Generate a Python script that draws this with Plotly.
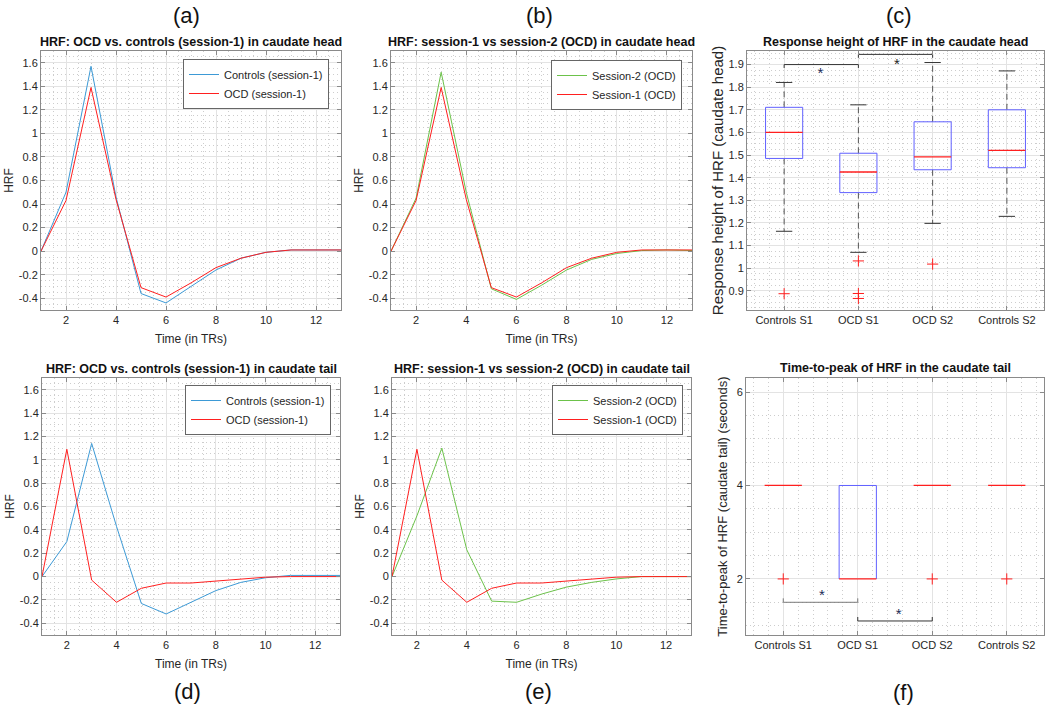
import plotly.graph_objects as go

W, H = 1050, 709
FONT = "Liberation Sans, Arial, Helvetica, sans-serif"

# ---------------- data ----------------
time_trs = list(range(1, 14))
head_controls_s1 = [0, 0.50, 1.57, 0.46, -0.36, -0.44, -0.30, -0.16, -0.06, -0.01, 0.01, 0.01, 0.01]
head_ocd_s1 = [0, 0.43, 1.39, 0.44, -0.31, -0.39, -0.27, -0.14, -0.06, -0.01, 0.01, 0.01, 0.01]
head_ocd_s2 = [0, 0.45, 1.52, 0.50, -0.32, -0.41, -0.29, -0.16, -0.07, -0.02, 0.005, 0.01, 0.005]
tail_controls_s1 = [0, 0.30, 1.14, 0.43, -0.23, -0.32, -0.22, -0.12, -0.05, -0.01, 0.01, 0.01, 0.01]
tail_ocd_s1 = [0, 1.09, -0.03, -0.22, -0.10, -0.055, -0.055, -0.04, -0.02, -0.005, 0.0, 0.0, 0.0]
tail_ocd_s2 = [0, 0.52, 1.10, 0.23, -0.21, -0.22, -0.15, -0.09, -0.05, -0.02, 0.0, 0.0, 0.0]

groups = ["Controls S1", "OCD S1", "OCD S2", "Controls S2"]
group_pos = [1, 2, 3, 4]

# response height of HRF in the caudate head (box plot statistics)
rh_low = [1.163, 1.070, 1.198, 1.229]
rh_q1 = [1.485, 1.334, 1.435, 1.444]
rh_med = [1.600, 1.425, 1.492, 1.521]
rh_q3 = [1.711, 1.508, 1.647, 1.700]
rh_high = [1.821, 1.722, 1.909, 1.872]
rh_outliers = [[0.887], [1.032, 0.888, 0.866], [1.018], []]

# time-to-peak of HRF in the caudate tail
ttp_low = [4, 2, 4, 4]
ttp_q1 = [4, 2, 4, 4]
ttp_med = [4, 2, 4, 4]
ttp_q3 = [4, 4, 4, 4]
ttp_high = [4, 4, 4, 4]
ttp_outliers = [[2], [], [2], [2]]

# significance brackets
rh_sig_from = [1, 2]
rh_sig_to = [2, 3]
rh_sig_level = [1.90, 1.945]
rh_star_x = [1.49, 2.52]
rh_star_y = [1.866, 1.904]

ttp_sig_from = [1, 2]
ttp_sig_to = [2, 3]
ttp_sig_level = [1.5, 1.1]
ttp_star_x = [1.52, 2.55]
ttp_star_y = [1.65, 1.25]

# ticks
hrf_yticks = [-0.4, -0.2, 0, 0.2, 0.4, 0.6, 0.8, 1, 1.2, 1.4, 1.6]
hrf_yticklabels = ["-0.4", "-0.2", "0", "0.2", "0.4", "0.6", "0.8", "1", "1.2", "1.4", "1.6"]
time_xticks = [2, 4, 6, 8, 10, 12]
rh_yticks = [0.9, 1.0, 1.1, 1.2, 1.3, 1.4, 1.5, 1.6, 1.7, 1.8, 1.9]
rh_yticklabels = ["0.9", "1", "1.1", "1.2", "1.3", "1.4", "1.5", "1.6", "1.7", "1.8", "1.9"]
ttp_yticks = [2, 4, 6]

# ---------------- style ----------------
BLUE = "#3d9ad6"
RED = "#ff1f1f"
GREEN = "#6cc24a"
BOXC = "#6060ff"
AXC = "#8a8a8a"
GRID = "#e3e3e3"
MINOR = "#cdcdcd"
TXT = "#262626"

fig = go.Figure()


def line(x, y, name, color, ax, legend):
    fig.add_trace(go.Scatter(x=x, y=y, mode="lines", name=name,
                             line=dict(color=color, width=1),
                             xaxis="x" + ax, yaxis="y" + ax, legend=legend))


# (a)
line(time_trs, head_controls_s1, "Controls (session-1)", BLUE, "", "legend")
line(time_trs, head_ocd_s1, "OCD (session-1)", RED, "", "legend")
# (b)
line(time_trs, head_ocd_s2, "Session-2 (OCD)", GREEN, "2", "legend2")
line(time_trs, head_ocd_s1, "Session-1 (OCD)", RED, "2", "legend2")
# (d)
line(time_trs, tail_controls_s1, "Controls (session-1)", BLUE, "4", "legend3")
line(time_trs, tail_ocd_s1, "OCD (session-1)", RED, "4", "legend3")
# (e)
line(time_trs, tail_ocd_s2, "Session-2 (OCD)", GREEN, "5", "legend4")
line(time_trs, tail_ocd_s1, "Session-1 (OCD)", RED, "5", "legend4")


def boxes(ax, low, q1, med, q3, high, outl, bw=0.5, cw=0.22):
    xa, ya = "x" + ax, "y" + ax
    # whiskers (dashed) and caps, only where they extend beyond the box
    wx, wy, cx, cy = [], [], [], []
    for p, lo, a, b, hi in zip(group_pos, low, q1, q3, high):
        if hi > b:
            wx += [p, p, None]
            wy += [b, hi, None]
            cx += [p - cw / 2, p + cw / 2, None]
            cy += [hi, hi, None]
        if lo < a:
            wx += [p, p, None]
            wy += [a, lo, None]
            cx += [p - cw / 2, p + cw / 2, None]
            cy += [lo, lo, None]
    fig.add_trace(go.Scatter(x=wx, y=wy, mode="lines", showlegend=False,
                             line=dict(color="#555555", width=1, dash="6px,4px"),
                             xaxis=xa, yaxis=ya, hoverinfo="skip"))
    fig.add_trace(go.Scatter(x=cx, y=cy, mode="lines", showlegend=False,
                             line=dict(color="#333333", width=1),
                             xaxis=xa, yaxis=ya, hoverinfo="skip"))
    # boxes (edges that coincide with the median are left to the median line)
    bx, by = [], []
    for p, a, m, b in zip(group_pos, q1, med, q3):
        if b <= a:
            continue
        l, r = p - bw / 2, p + bw / 2
        bx += [l, l, None, r, r, None]
        by += [a, b, None, a, b, None]
        if a != m:
            bx += [l, r, None]
            by += [a, a, None]
        if b != m:
            bx += [l, r, None]
            by += [b, b, None]
    fig.add_trace(go.Scatter(x=bx, y=by, mode="lines", showlegend=False,
                             line=dict(color=BOXC, width=1),
                             xaxis=xa, yaxis=ya, hoverinfo="skip"))
    # medians
    mx, my = [], []
    for p, m in zip(group_pos, med):
        mx += [p - bw / 2, p + bw / 2, None]
        my += [m, m, None]
    fig.add_trace(go.Scatter(x=mx, y=my, mode="lines", showlegend=False,
                             line=dict(color=RED, width=1.3),
                             xaxis=xa, yaxis=ya, hoverinfo="skip"))
    # outliers
    ox, oy = [], []
    for p, vals in zip(group_pos, outl):
        for v in vals:
            ox.append(p)
            oy.append(v)
    fig.add_trace(go.Scatter(x=ox, y=oy, mode="markers", showlegend=False,
                             marker=dict(symbol="cross-thin", size=8,
                                         line=dict(color=RED, width=1)),
                             xaxis=xa, yaxis=ya, hoverinfo="skip"))


def brackets(ax, f, t, lev, tick, colors):
    xa, ya = "x" + ax, "y" + ax
    for a, b, l, c in zip(f, t, lev, colors):
        fig.add_trace(go.Scatter(x=[a, a, b, b], y=[l + tick, l, l, l + tick],
                                 mode="lines", showlegend=False,
                                 line=dict(color=c, width=1),
                                 xaxis=xa, yaxis=ya, hoverinfo="skip"))


def stars(ax, sx, sy, colors):
    fig.add_trace(go.Scatter(x=sx, y=sy, mode="text", text=["*"] * len(sx),
                             textfont=dict(size=15, color=colors, family=FONT),
                             textposition="middle center", showlegend=False,
                             xaxis="x" + ax, yaxis="y" + ax, hoverinfo="skip"))


boxes("3", rh_low, rh_q1, rh_med, rh_q3, rh_high, rh_outliers)
brackets("3", rh_sig_from, rh_sig_to, rh_sig_level, -0.015, ["#333333", "#333333"])
stars("3", rh_star_x, [v - 0.008 for v in rh_star_y], ["#1b2a55", "#222222"])

boxes("6", ttp_low, ttp_q1, ttp_med, ttp_q3, ttp_high, ttp_outliers)
brackets("6", ttp_sig_from, ttp_sig_to, ttp_sig_level, 0.085, ["#7a7a7a", "#333333"])
stars("6", ttp_star_x, [v - 0.03 for v in ttp_star_y], ["#1b2a55", "#1b2a55"])


# ---------------- axes ----------------
def dx(a, b):
    return [a / W, b / W]


def dy(top, bottom):
    return [1 - bottom / H, 1 - top / H]


def minor_grid(step):
    return dict(dtick=step, tick0=0, showgrid=True, gridcolor=MINOR,
                griddash="1px,3px", gridwidth=1)


def base_axis(**kw):
    d = dict(showline=True, linecolor=AXC, linewidth=1, mirror="ticks",
             ticks="inside", ticklen=4, tickcolor=AXC, showgrid=True,
             gridcolor=GRID, gridwidth=1, zeroline=False,
             tickfont=dict(size=11, color=TXT, family=FONT),
             title_font=dict(size=12, color=TXT, family=FONT))
    d.update(kw)
    return d


TOP = (51, 310)
BOT = (378, 635)
COLS_TOP = [(41, 341), (391, 692), (747, 1044)]
COLS_BOT = [(42, 340), (392, 691), (746, 1044)]


def time_xaxis(col, anchor):
    return base_axis(domain=dx(*col), range=[1, 13], tickmode="array",
                     tickvals=time_xticks, anchor=anchor,
                     title=dict(text="Time (in TRs)", standoff=9),
                     minor=minor_grid(0.5))


def hrf_yaxis(row, anchor):
    return base_axis(domain=dy(*row), range=[-0.5, 1.7], tickmode="array",
                     tickvals=hrf_yticks, ticktext=hrf_yticklabels, anchor=anchor,
                     title=dict(text="HRF", standoff=2),
                     minor=minor_grid(0.05))


def group_xaxis(col, anchor):
    return base_axis(domain=dx(*col), range=[0.5, 4.5], tickmode="array",
                     tickvals=group_pos, ticktext=groups, anchor=anchor,
                     minor=minor_grid(0.2))


fig.update_layout(
    width=W, height=H, margin=dict(l=0, r=0, t=0, b=0),
    paper_bgcolor="white", plot_bgcolor="white",
    font=dict(family=FONT, color=TXT),
    xaxis=time_xaxis(COLS_TOP[0], "y"),
    yaxis=hrf_yaxis(TOP, "x"),
    xaxis2=time_xaxis(COLS_TOP[1], "y2"),
    yaxis2=hrf_yaxis(TOP, "x2"),
    xaxis3=group_xaxis(COLS_TOP[2], "y3"),
    yaxis3=base_axis(domain=dy(*TOP), range=[0.815, 1.96], tickmode="array",
                     tickvals=rh_yticks, ticktext=rh_yticklabels, anchor="x3",
                     title=dict(text="Response height of HRF (caudate head)", standoff=1,
                                font=dict(size=15, color=TXT, family=FONT)),
                     minor=minor_grid(0.025)),
    xaxis4=time_xaxis(COLS_BOT[0], "y4"),
    yaxis4=hrf_yaxis(BOT, "x4"),
    xaxis5=time_xaxis(COLS_BOT[1], "y5"),
    yaxis5=hrf_yaxis(BOT, "x5"),
    xaxis6=group_xaxis(COLS_BOT[2], "y6"),
    yaxis6=base_axis(domain=dy(*BOT), range=[0.8, 6.3], tickmode="array",
                     tickvals=ttp_yticks, anchor="x6",
                     title=dict(text="Time-to-peak of HRF (caudate tail) (seconds)", standoff=6,
                                font=dict(size=13, color=TXT, family=FONT)),
                     minor=minor_grid(0.5)),
)

leg_common = dict(bgcolor="white", bordercolor="#666666", borderwidth=1,
                  font=dict(size=11, color=TXT, family=FONT),
                  xanchor="right", yanchor="top", itemwidth=30, tracegroupgap=0)
fig.update_layout(
    legend=dict(x=329 / W, y=1 - 59 / H, **leg_common),
    legend2=dict(x=682 / W, y=1 - 60 / H, **leg_common),
    legend3=dict(x=331 / W, y=1 - 385 / H, **leg_common),
    legend4=dict(x=683 / W, y=1 - 385 / H, **leg_common),
)

# titles
titles = [
    ("HRF: OCD vs. controls (session-1) in caudate head", COLS_TOP[0], 42),
    ("HRF: session-1 vs session-2 (OCD) in caudate head", COLS_TOP[1], 42),
    ("Response height of HRF in the caudate head", COLS_TOP[2], 42),
    ("HRF: OCD vs. controls (session-1) in caudate tail", COLS_BOT[0], 369),
    ("HRF: session-1 vs session-2 (OCD) in caudate tail", COLS_BOT[1], 369),
    ("Time-to-peak of HRF in the caudate tail", COLS_BOT[2], 368),
]
for txt, col, ypx in titles:
    fig.add_annotation(text="<b>" + txt + "</b>", xref="paper", yref="paper",
                       x=(col[0] + col[1]) / 2 / W, y=1 - ypx / H, showarrow=False,
                       xanchor="center", yanchor="middle",
                       font=dict(size=12.5, color="#111111", family=FONT))

panel_labels = [("(a)", 186, 16), ("(b)", 539, 16), ("(c)", 899, 16),
                ("(d)", 187, 691), ("(e)", 538, 691), ("(f)", 903, 692)]
for txt, xpx, ypx in panel_labels:
    fig.add_annotation(text=txt, xref="paper", yref="paper", x=xpx / W, y=1 - ypx / H,
                       showarrow=False, xanchor="center", yanchor="middle",
                       font=dict(size=22, color="#111111", family=FONT))

fig.write_html("out.html",
               config={"displayModeBar": False},
               post_script="document.body.style.margin='0';document.body.style.overflow='hidden';")
